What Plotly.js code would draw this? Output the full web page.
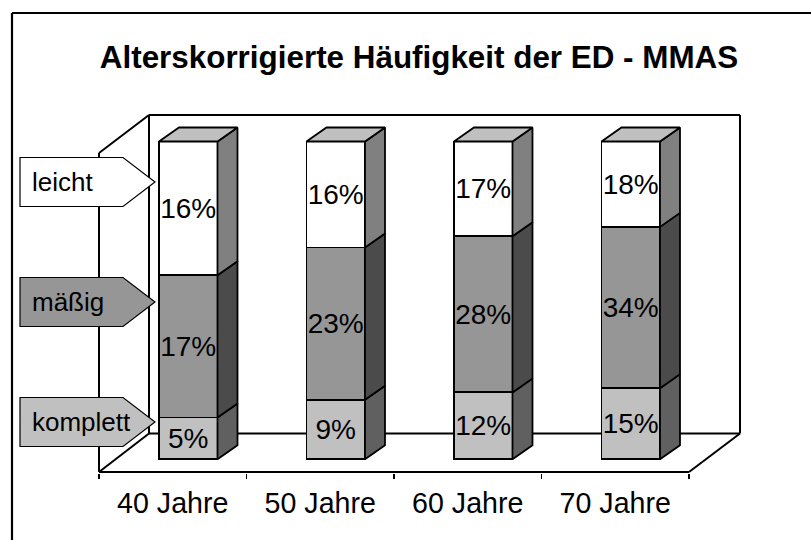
<!DOCTYPE html>
<html><head><meta charset="utf-8">
<script src="https://cdn.plot.ly/plotly-3.0.0.min.js"></script>
<style>html,body{margin:0;padding:0;background:#fff}#c{width:811px;height:540px}</style>
</head><body><div id="c"></div>
<script>
const categories = ['40 Jahre','50 Jahre','60 Jahre','70 Jahre'];
const seriesNames = ['komplett','mäßig','leicht'];
const komplett = [5,9,12,15];
const maessig = [17,23,28,34];
const leicht = [16,16,17,18];
const series = [komplett, maessig, leicht];
const frontColors = ['#c0c0c0','#969696','#ffffff'];
const sideColors = ['#606060','#4b4b4b','#808080'];
const topColor = '#c0c0c0';
const W = 811, H = 540;
const L = 98, R = 741, T = 114, B = 473;
const pxX = 147.5, pxY = 3.178, y0px = 459.3;
const px2x = p => -0.5 + (p - 99) / pxX;
const px2y = p => (y0px - p) / pxY;
const barX = categories.map((_, i) => i + 0.105);
const barW = 58.5 / pxX;
const dx = 20 / pxX, dy = 14 / pxY;
const ink = '#000';
const traces = [];
series.forEach((vals, s) => traces.push({
  type:'bar', name:seriesNames[s], x:barX, y:vals, width:barW,
  marker:{color:frontColors[s], line:{color:ink, width:1.8}},
  text:vals.map(v => v + '%'), textposition:'inside', insidetextanchor:'middle',
  textangle:0, constraintext:'none', cliponaxis:false,
  insidetextfont:{family:'Liberation Sans, Arial, sans-serif', size:28, color:'#000'},
  hoverinfo:'skip', showlegend:false
}));
const poly = (xs, ys, color) => traces.push({
  type:'scatter', mode:'lines', x:xs, y:ys, fill:'toself', fillcolor:color,
  line:{color:ink, width:1.8}, hoverinfo:'skip', showlegend:false, cliponaxis:false
});
categories.forEach((_, i) => {
  const tot = series.reduce((a, v) => a + v[i], 0);
  let cum = 0;
  const r = barX[i] + barW / 2, l = barX[i] - barW / 2;
  series.forEach((v, s) => {
    const a = cum / tot * 100; cum += v[i];
    const b = cum / tot * 100;
    poly([r, r + dx, r + dx, r, r], [a, a + dy, b + dy, b, a], sideColors[s]);
  });
  poly([l, r, r + dx, l + dx, l], [100, 100, 100 + dy, 100 + dy, 100], topColor);
});
const wallLine = {color:ink, width:2};
const seg = (x0, y0, x1, y1) => ({type:'line', xref:'x', yref:'y', layer:'below',
  x0:px2x(x0), y0:px2y(y0), x1:px2x(x1), y1:px2y(y1), line:wallLine});
const shapes = [
  seg(149,115,740,115), seg(740,115,740,433.5), seg(149,115,149,433.5),
  seg(149,433.5,740,433.5), seg(99,153,149,115), seg(99,153,99,472),
  seg(99,472,149,433.5), seg(99,472,689,472), seg(689,472,740,433.5)
];
const paperX = p => (p - L) / (R - L);
const paperY = p => (B - p) / (B - T);
const frameLine = {color:ink, width:2.2};
shapes.push({type:'line', xref:'paper', yref:'paper', layer:'below',
  x0:paperX(12), x1:paperX(12), y0:paperY(13), y1:paperY(540), line:frameLine});
shapes.push({type:'line', xref:'paper', yref:'paper', layer:'below',
  x0:paperX(12), x1:paperX(811), y0:paperY(13), y1:paperY(13), line:frameLine});
const legendCenters = [422, 302, 182];
const annotations = [];
seriesNames.forEach((n, s) => {
  const c = legendCenters[s];
  const pts = [[20,c-24.5],[123,c-24.5],[155,c],[123,c+24.5],[20,c+24.5]];
  shapes.push({type:'path', xref:'paper', yref:'paper', layer:'above',
    path:'M' + pts.map(p => paperX(p[0]).toFixed(5) + ',' + paperY(p[1]).toFixed(5)).join('L') + 'Z',
    fillcolor:frontColors[s], line:{color:ink, width:1.2}});
  annotations.push({xref:'paper', yref:'paper', x:paperX(30), y:paperY(c), xanchor:'left', yanchor:'middle',
    text:n, showarrow:false, font:{family:'Liberation Sans, Arial, sans-serif', size:26, color:'#000'}});
});
const layout = {
  width:W, height:H, autosize:false, paper_bgcolor:'#fff', plot_bgcolor:'rgba(0,0,0,0)',
  margin:{l:L, r:W-R, t:T, b:H-B, pad:0},
  barmode:'stack', barnorm:'percent', showlegend:false,
  title:{text:'<b>Alterskorrigierte Häufigkeit der ED - MMAS</b>', x:419/W, xanchor:'center', y:1-57/H, yanchor:'middle',
    font:{family:'Liberation Sans, Arial, sans-serif', size:31.4, color:'#000'}},
  xaxis:{type:'linear', range:[px2x(L), px2x(R)], showgrid:false, zeroline:false, showline:false,
    tickmode:'array', tickvals:categories.map((_, i) => i), ticktext:categories, ticks:'', ticklabelstandoff:10,
    tickfont:{family:'Liberation Sans, Arial, sans-serif', size:28.6, color:'#000'},
    minor:{tickmode:'array', tickvals:[-0.5,0.5,1.5,2.5,3.5], ticks:'outside', ticklen:5, tickwidth:1.5, tickcolor:ink, showgrid:false}},
  yaxis:{range:[px2y(B), px2y(T)], visible:false},
  shapes, annotations
};
Plotly.newPlot('c', traces, layout, {displayModeBar:false, staticPlot:true});
</script></body></html>
